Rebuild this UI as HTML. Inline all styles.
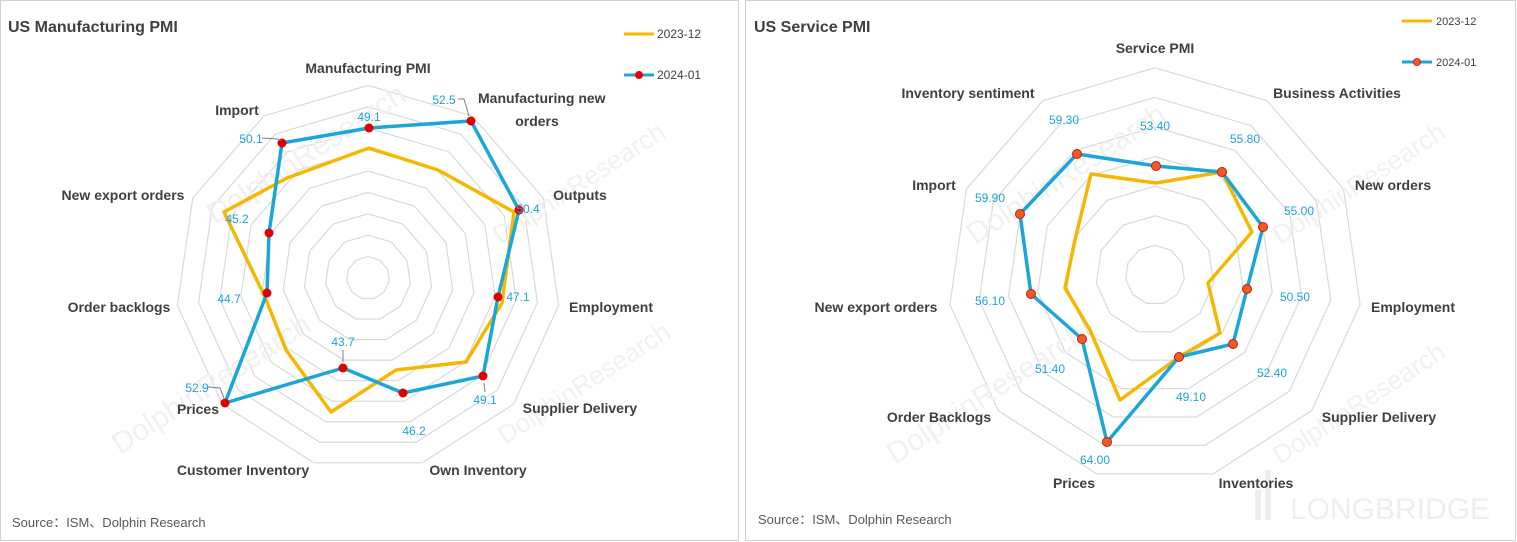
<!DOCTYPE html>
<html><head><meta charset="utf-8"><style>
body{margin:0;width:1517px;height:542px;background:#fff;overflow:hidden;font-family:"Liberation Sans","Noto Sans CJK SC",sans-serif}
svg{position:absolute;left:0;top:0}
</style></head><body>
<svg id="s" width="1517" height="542" xmlns="http://www.w3.org/2000/svg" font-family="Liberation Sans, Noto Sans CJK SC, sans-serif">
<rect x="0.5" y="0.5" width="738" height="540" fill="#fff" stroke="#d0d0d0"/>
<rect x="745.5" y="0.5" width="770" height="540" fill="#fff" stroke="#d0d0d0"/>
<g id="grid"></g>
<g font-size="30" fill="#f1f1f1">
<text transform="translate(215,225) rotate(-33)">DolphinResearch</text>
<text transform="translate(500,245) rotate(-33)" font-size="26">DolphinResearch</text>
<text transform="translate(120,455) rotate(-33)">DolphinResearch</text>
<text transform="translate(505,445) rotate(-33)" font-size="26">DolphinResearch</text>
<text transform="translate(975,245) rotate(-33)">DolphinResearch</text>
<text transform="translate(1280,245) rotate(-33)" font-size="26">DolphinResearch</text>
<text transform="translate(895,465) rotate(-33)">DolphinResearch</text>
<text transform="translate(1280,465) rotate(-33)" font-size="26">DolphinResearch</text>
</g>
<text x="1290" y="519" font-size="30" fill="#eeeeee">LONGBRIDGE</text>
<rect x="1255" y="490" width="6" height="30" fill="#eeeeee"/><rect x="1265" y="470" width="6" height="50" fill="#eeeeee"/>
<g id="data"></g>
<g font-size="14" font-weight="bold" fill="#404040" text-anchor="middle">
<text x="8" y="32" font-size="16" text-anchor="start">US Manufacturing PMI</text>
<text x="754" y="32" font-size="16" text-anchor="start">US Service PMI</text>
<text x="368" y="73">Manufacturing PMI</text>
<text x="478" y="103" text-anchor="start">Manufacturing new</text>
<text x="537" y="126">orders</text>
<text x="580" y="200">Outputs</text>
<text x="611" y="312">Employment</text>
<text x="580" y="413">Supplier Delivery</text>
<text x="478" y="475">Own Inventory</text>
<text x="243" y="475">Customer Inventory</text>
<text x="198" y="414">Prices</text>
<text x="119" y="312">Order backlogs</text>
<text x="123" y="200">New export orders</text>
<text x="237" y="115">Import</text>
<text x="1155" y="53">Service PMI</text>
<text x="1337" y="98">Business Activities</text>
<text x="1393" y="190">New orders</text>
<text x="1413" y="312">Employment</text>
<text x="1379" y="422">Supplier Delivery</text>
<text x="1256" y="488">Inventories</text>
<text x="1074" y="488">Prices</text>
<text x="939" y="422">Order Backlogs</text>
<text x="876" y="312">New export orders</text>
<text x="934" y="190">Import</text>
<text x="968" y="98">Inventory sentiment</text>
</g>
<g font-size="12" fill="#1fa3d8" text-anchor="middle">
<text x="369" y="121">49.1</text><text x="444" y="104">52.5</text><text x="528" y="213">50.4</text>
<text x="518" y="301">47.1</text><text x="485" y="404">49.1</text><text x="414" y="435">46.2</text>
<text x="343" y="346">43.7</text><text x="197" y="392">52.9</text><text x="229" y="303">44.7</text>
<text x="237" y="223">45.2</text><text x="251" y="143">50.1</text>
<text x="1155" y="130">53.40</text><text x="1245" y="143">55.80</text><text x="1299" y="215">55.00</text>
<text x="1295" y="301">50.50</text><text x="1272" y="377">52.40</text><text x="1191" y="401">49.10</text>
<text x="1095" y="464">64.00</text><text x="1050" y="373">51.40</text><text x="990" y="305">56.10</text>
<text x="990" y="202">59.90</text><text x="1064" y="124">59.30</text>
</g>
<g stroke="#808080" fill="none" stroke-width="1">
<polyline points="458,99 464,99 469,116"/><polyline points="262,138 278,139 281,141"/>
<polyline points="343,350 343,362"/><polyline points="208,387 220,388 224,398"/>
<polyline points="484,383 485,392"/>
</g>
<g font-size="12" fill="#404040">
<line x1="624" y1="34" x2="654" y2="34" stroke="#f5b800" stroke-width="3"/>
<text x="657" y="38">2023-12</text>
<line x1="624" y1="75" x2="654" y2="75" stroke="#1ba6da" stroke-width="3"/>
<circle cx="639" cy="75" r="4" fill="#e00"/>
<text x="657" y="79">2024-01</text>
<g font-size="11">
<line x1="1402" y1="21" x2="1432" y2="21" stroke="#f5b800" stroke-width="3"/>
<text x="1436" y="25">2023-12</text>
<line x1="1402" y1="62" x2="1432" y2="62" stroke="#1ba6da" stroke-width="3"/>
<circle cx="1417" cy="62" r="3.5" fill="#f05a28" stroke="#c00" stroke-width="0.8"/>
<text x="1436" y="66">2024-01</text></g>
</g>
<g font-size="13" fill="#595959">
<text x="12" y="527">Source：ISM、Dolphin Research</text>
<text x="758" y="524">Source：ISM、Dolphin Research</text>
</g>
</svg>
<script>
var NS="http://www.w3.org/2000/svg";
function poly(pts,attrs,parent){var e=document.createElementNS(NS,"polygon");e.setAttribute("points",pts.map(p=>p.join(",")).join(" "));for(var k in attrs)e.setAttribute(k,attrs[k]);document.getElementById(parent).appendChild(e);}
function grid(cx,cy,n,step){for(var r=1;r<=n;r++){var pts=[];for(var i=0;i<11;i++){var a=(-90+i*360/11)*Math.PI/180;pts.push([cx+r*step*Math.cos(a),cy+r*step*Math.sin(a)]);}poly(pts,{fill:"none",stroke:"#d9d9d9","stroke-width":1.2},"grid");}}
grid(368,278,9,21.4);grid(1155,275,7,29.6);
var LY=[[369,148],[438,170],[514,212],[502,303],[466,362],[396,370],[331,412],[286,350],[265,297],[224,212],[287,178]];
var LB=[[369,128],[471,121],[519,210],[498,297],[483,376],[403,393],[343,368],[225,403],[267,293],[269,233],[282,143]];
var RY=[[1156,183],[1222,172],[1252,232],[1208,283],[1220,333],[1179,357],[1120,400],[1090,330],[1065,288],[1075,240],[1091,174]];
var RB=[[1156,166],[1222,172],[1263,227],[1247,289],[1233,344],[1179,357],[1107,442],[1082,339],[1031,294],[1020,214],[1077,154]];
poly(LY,{fill:"none",stroke:"#f5b800","stroke-width":3.5,"stroke-linejoin":"round"},"data");
poly(LB,{fill:"none",stroke:"#1ba6da","stroke-width":3.5,"stroke-linejoin":"round"},"data");
poly(RY,{fill:"none",stroke:"#f5b800","stroke-width":3.5,"stroke-linejoin":"round"},"data");
poly(RB,{fill:"none",stroke:"#1ba6da","stroke-width":3.5,"stroke-linejoin":"round"},"data");
function dots(p,f,s){p.forEach(function(q){var c=document.createElementNS(NS,"circle");c.setAttribute("cx",q[0]);c.setAttribute("cy",q[1]);c.setAttribute("r",4.5);c.setAttribute("fill",f);if(s){c.setAttribute("stroke",s);c.setAttribute("stroke-width",1);}document.getElementById("data").appendChild(c);});}
dots(LB,"#e00000");dots(RB,"#f05a28","#c02000");
</script>
</body></html>
